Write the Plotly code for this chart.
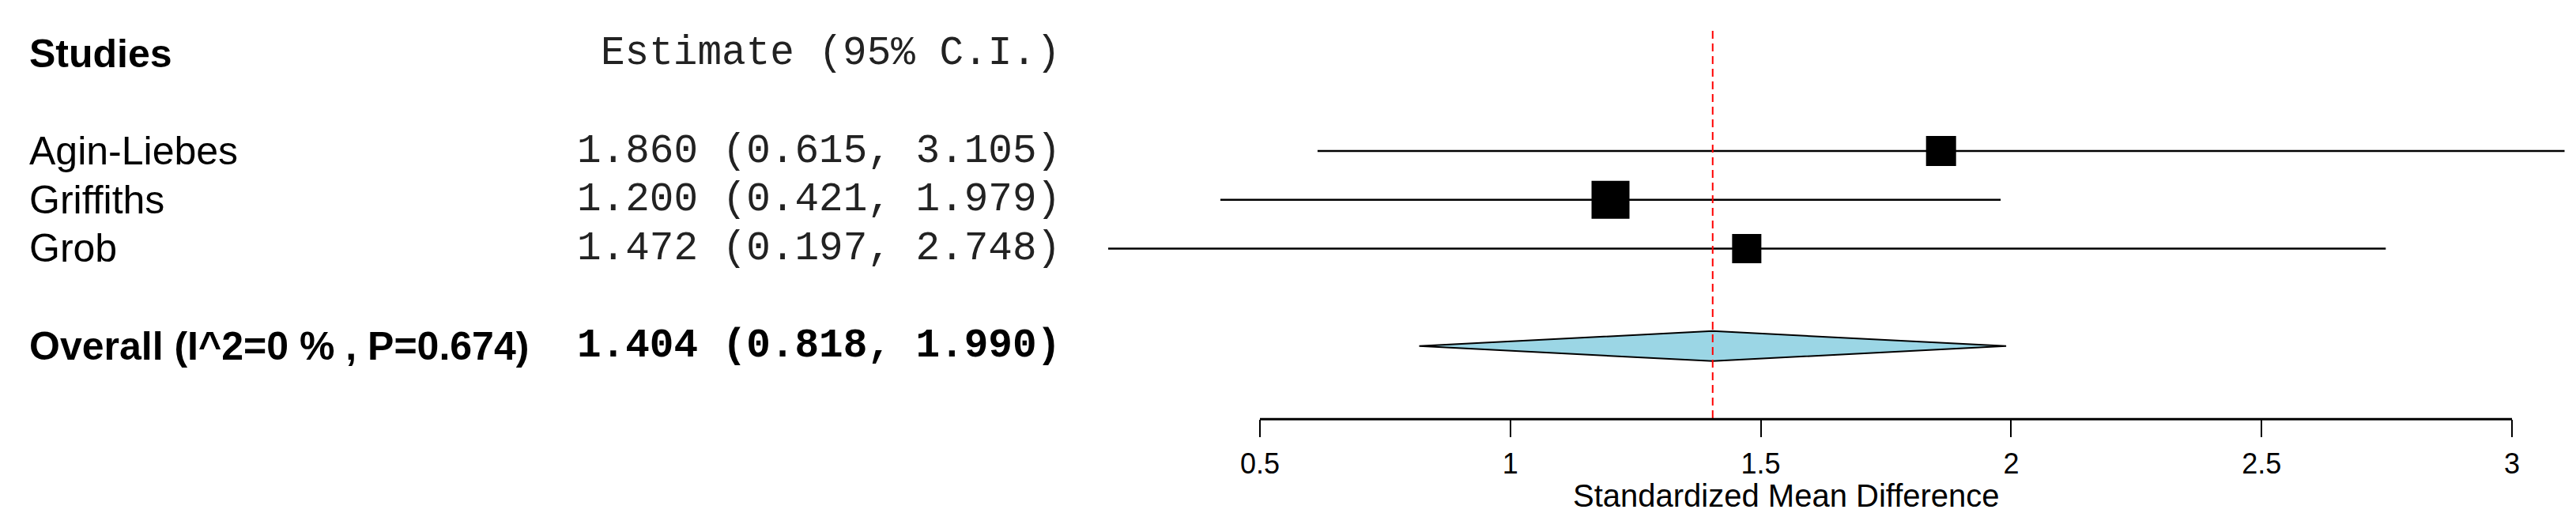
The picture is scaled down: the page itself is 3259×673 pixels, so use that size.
import plotly.graph_objects as go

# study data
studies = ["Agin-Liebes", "Griffiths", "Grob"]
estimates = [1.860, 1.200, 1.472]
lower_ci = [0.615, 0.421, 0.197]
upper_ci = [3.105, 1.979, 2.748]

# pooled result
overall_est = 1.404
overall_lo = 0.818
overall_hi = 1.990
overall_i2 = 0
overall_p = 0.674

x_ticks = [0.5, 1, 1.5, 2, 2.5, 3]
x_tick_labels = ["0.5", "1", "1.5", "2", "2.5", "3"]

W, H = 3259, 673
SANS = "Liberation Sans, Arial, sans-serif"
MONO = "Courier New, Liberation Mono, monospace"

# rows on the y axis (reversed): header, studies, overall
header_row = -1
study_rows = [1, 2, 3]
overall_row = 5
axis_row = 6.5
row_px = 61.7          # pixels per row
first_row_px = 183     # pixel y of first study row
y_top = 1 - first_row_px / row_px
axis_px = first_row_px + (axis_row - 1) * row_px

# x scale: 0.5 -> 1586 px, 3 -> 3170 px
px_per_unit = (3170 - 1586) / 2.5
x_left = 0.5 - 1586 / px_per_unit
x_right = 3 + (W - 3170) / px_per_unit

box_sizes = [38, 48, 37]
diamond_half = 19 / row_px

fig = go.Figure()

# confidence interval lines
for lo, hi, r in zip(lower_ci, upper_ci, study_rows):
    fig.add_trace(go.Scatter(x=[lo, hi], y=[r, r], mode="lines",
                             line=dict(color="black", width=2.5),
                             showlegend=False, hoverinfo="skip"))

# point estimate boxes
fig.add_trace(go.Scatter(x=estimates, y=study_rows, mode="markers",
                         marker=dict(symbol="square", size=box_sizes, color="black",
                                     opacity=1, line=dict(width=0)),
                         showlegend=False))

# pooled diamond
fig.add_trace(go.Scatter(
    x=[overall_lo, overall_est, overall_hi, overall_est, overall_lo],
    y=[overall_row, overall_row - diamond_half, overall_row,
       overall_row + diamond_half, overall_row],
    mode="lines", fill="toself", fillcolor="#9BD6E5",
    line=dict(color="black", width=2), showlegend=False))

# reference line at pooled estimate
fig.add_shape(type="line", xref="x", yref="y", x0=overall_est, x1=overall_est,
              y0=1 + (31 - first_row_px) / row_px, y1=axis_row,
              line=dict(color="#FF0000", width=2, dash="10px,6px"))

# axis line only between first and last tick
axis_paper = 1 - axis_px / H
fig.add_shape(type="line", xref="x", yref="paper", x0=x_ticks[0], x1=x_ticks[-1],
              y0=axis_paper, y1=axis_paper, line=dict(color="black", width=3))

# left column text
label_x = 27 / W
value_x = 1336 / W
LBL = 50
VAL = 51
fig.add_annotation(text="<b>Studies</b>", x=label_x, xref="paper", y=header_row, yref="y",
                   xanchor="left", yanchor="middle", showarrow=False,
                   font=dict(family=SANS, size=LBL, color="black"))
fig.add_annotation(text="Estimate (95% C.I.)", x=value_x, xref="paper", y=header_row, yref="y",
                   xanchor="right", yanchor="middle", showarrow=False,
                   font=dict(family=MONO, size=VAL, color="#222"))

for name, e, lo, hi, r in zip(studies, estimates, lower_ci, upper_ci, study_rows):
    fig.add_annotation(text=name, x=label_x, xref="paper", y=r, yref="y",
                       xanchor="left", yanchor="middle", showarrow=False,
                       font=dict(family=SANS, size=LBL, color="black"))
    fig.add_annotation(text=f"{e:.3f} ({lo:.3f}, {hi:.3f})", x=value_x, xref="paper",
                       y=r, yref="y", xanchor="right", yanchor="middle", showarrow=False,
                       font=dict(family=MONO, size=VAL, color="#222"))

fig.add_annotation(text=f"<b>Overall (I^2={overall_i2} % , P={overall_p:.3f})</b>",
                   x=label_x, xref="paper", y=overall_row, yref="y", xanchor="left",
                   yanchor="middle", showarrow=False,
                   font=dict(family=SANS, size=LBL, color="black"))
fig.add_annotation(text=f"<b>{overall_est:.3f} ({overall_lo:.3f}, {overall_hi:.3f})</b>",
                   x=value_x, xref="paper", y=overall_row, yref="y", xanchor="right",
                   yanchor="middle", showarrow=False,
                   font=dict(family=MONO, size=VAL, color="black"))

# x axis title
fig.add_annotation(text="Standardized Mean Difference", x=2252 / W, xref="paper",
                   y=1 - 619 / H, yref="paper", xanchor="center", yanchor="middle",
                   showarrow=False, font=dict(family=SANS, size=40, color="black"))

fig.update_layout(
    width=W, height=H,
    margin=dict(l=0, r=0, t=0, b=0),
    paper_bgcolor="white", plot_bgcolor="white",
    xaxis=dict(range=[x_left, x_right], domain=[0, 1], showgrid=False, zeroline=False,
               showline=False, tickvals=x_ticks, ticktext=x_tick_labels,
               ticks="outside", ticklen=22, tickwidth=2, tickcolor="black",
               ticklabelstandoff=2,
               tickfont=dict(family=SANS, size=36, color="black"), automargin=False),
    yaxis=dict(range=[axis_row, y_top], domain=[1 - axis_px / H, 1], visible=False),
)

fig.write_html("out.html")
